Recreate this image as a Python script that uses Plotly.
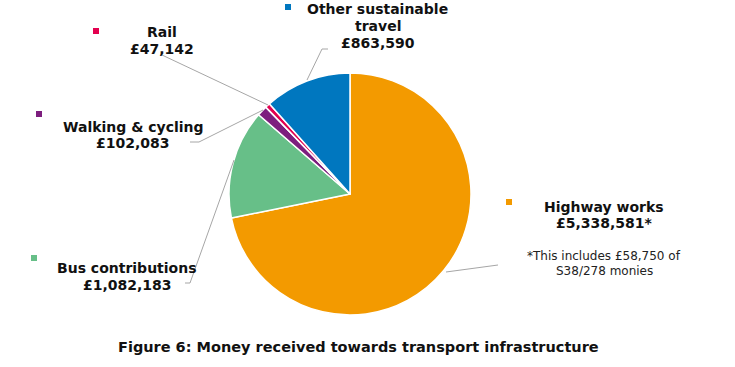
import plotly.graph_objects as go

categories = ["Highway works", "Bus contributions", "Walking & cycling", "Rail", "Other sustainable travel"]
values = [5338581, 1082183, 102083, 47142, 863590]
colors = ["#F39A00", "#67BF88", "#7D1E7E", "#E3004F", "#0077BF"]
label_lines = [
    ["Highway works", "£5,338,581*"],
    ["Bus contributions", "£1,082,183"],
    ["Walking & cycling", "£102,083"],
    ["Rail", "£47,142"],
    ["Other sustainable", "travel", "£863,590"],
]
note_lines = ["*This includes £58,750 of", "S38/278 monies"]
title_text = "Figure 6: Money received towards transport infrastructure"

W, H = 735, 367
def px(x):
    return x / W
def py(y):
    return 1 - y / H

FONT = "DejaVu Sans, Verdana, sans-serif"

fig = go.Figure(go.Pie(
    labels=categories, values=values, sort=False, direction="clockwise", rotation=0,
    marker=dict(colors=colors, line=dict(color="white", width=1.5)),
    textinfo="none", hoverinfo="label+value", showlegend=False,
    domain=dict(x=[px(229), px(471)], y=[py(315), py(73)]),
))

# label centre x, first-line centre y, line spacing; legend-key positions
label_pos = [(604, 207, 16), (127, 268, 17), (133, 127, 16), (162, 32, 17), (378, 9, 17)]
key_pos = [(509, 202), (34, 258), (39, 114), (96, 31), (288, 7)]

annotations = []
shapes = []
for lines, (x, y, dy), (kx, ky), c in zip(label_lines, label_pos, key_pos, colors):
    for i, ln in enumerate(lines):
        annotations.append(dict(x=px(x), y=py(y + i * dy), xref="paper", yref="paper", text="<b>" + ln + "</b>",
                                showarrow=False, xanchor="center", yanchor="middle", align="center",
                                font=dict(family=FONT, size=14, color="#111111")))
    shapes.append(dict(type="rect", xref="paper", yref="paper",
                       x0=px(kx - 3), x1=px(kx + 3), y0=py(ky + 3), y1=py(ky - 3),
                       fillcolor=c, line=dict(width=0)))

for i, ln in enumerate(note_lines):
    annotations.append(dict(x=px(604), y=py(256 + i * 15), xref="paper", yref="paper", text=ln,
                            showarrow=False, xanchor="center", yanchor="middle", align="center",
                            font=dict(family=FONT, size=12, color="#222222")))
annotations.append(dict(x=px(358), y=py(347), xref="paper", yref="paper", text="<b>" + title_text + "</b>",
                        showarrow=False, xanchor="center", yanchor="middle",
                        font=dict(family=FONT, size=14.5, color="#111111")))

leaders = [
    [(446, 272), (498, 265)],
    [(185, 283), (190, 283), (234, 160)],
    [(190, 142), (199, 142), (263, 110)],
    [(162, 55), (268, 105)],
    [(307, 80), (322, 49), (328, 49)],
]
for pts in leaders:
    for (x0, y0), (x1, y1) in zip(pts[:-1], pts[1:]):
        shapes.append(dict(type="line", xref="paper", yref="paper",
                           x0=px(x0), y0=py(y0), x1=px(x1), y1=py(y1),
                           line=dict(color="#A6A6A6", width=1)))

fig.update_layout(width=W, height=H, margin=dict(l=0, r=0, t=0, b=0),
                  paper_bgcolor="white", plot_bgcolor="white",
                  annotations=annotations, shapes=shapes)
fig.write_html("out.html", config={"displayModeBar": False},
               post_script="document.body.style.margin='0px';document.body.style.overflow='hidden';")
